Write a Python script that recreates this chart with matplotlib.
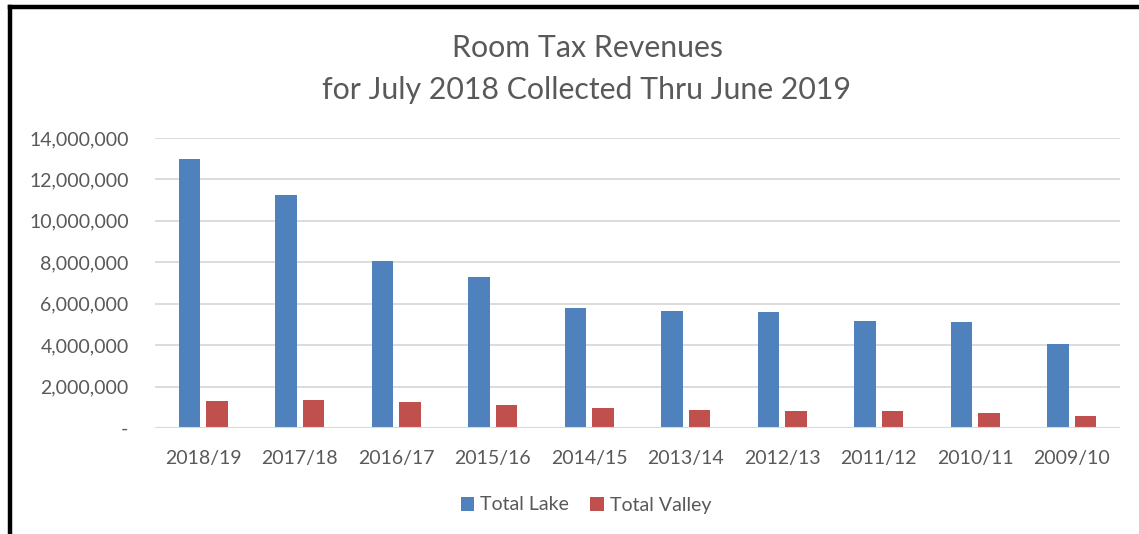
import matplotlib
matplotlib.use("Agg")
import matplotlib.pyplot as plt
from matplotlib.ticker import FuncFormatter
from matplotlib.lines import Line2D
import numpy as np

categories = ["2018/19", "2017/18", "2016/17", "2015/16", "2014/15",
              "2013/14", "2012/13", "2011/12", "2010/11", "2009/10"]
total_lake = [12990000, 11250000, 8060000, 7290000, 5790000,
              5650000, 5600000, 5170000, 5120000, 4060000]
total_valley = [1300000, 1370000, 1260000, 1130000, 980000,
                850000, 820000, 800000, 710000, 560000]
yticks = [0, 2000000, 4000000, 6000000, 8000000, 10000000, 12000000, 14000000]

plt.rcParams['font.family'] = ['Lato', 'DejaVu Sans']
text_color = "#595959"

fig = plt.figure(figsize=(11.39, 5.34), dpi=100)
ax = fig.add_axes([155/1139, 1 - 428/534, (1120-155)/1139, (428-138)/534])

x = np.arange(len(categories))
w = 0.225
off = 0.143
ax.bar(x - off, total_lake, width=w, color="#4F81BD", label="Total Lake", zorder=3)
ax.bar(x + off, total_valley, width=w, color="#C0504D", label="Total Valley", zorder=3)

ax.set_xlim(-0.5, len(categories) - 0.5)
ax.set_ylim(0, 14000000)
ax.set_yticks(yticks)
ax.yaxis.set_major_formatter(FuncFormatter(lambda v, p: "-" if v == 0 else f"{int(v):,}"))
ax.set_xticks(x)
ax.set_xticklabels(categories)
ax.tick_params(axis='both', length=0, labelsize=14, colors=text_color)
ax.tick_params(axis='x', pad=16)
ax.tick_params(axis='y', pad=19)
ax.grid(axis='y', color="#d9d9d9", linewidth=1.3, zorder=0)
for s in ax.spines.values():
    s.set_visible(False)
ax.axhline(0, color="#d9d9d9", linewidth=1.5, zorder=4)

fig.text(587/1139, 1 - 48/534, "Room Tax Revenues", ha='center', va='center',
         fontsize=21.8, color=text_color)
fig.text(587/1139, 1 - 90/534, "for July 2018 Collected Thru June 2019", ha='center',
         va='center', fontsize=21.8, color=text_color)

leg = fig.legend(loc='center', bbox_to_anchor=(586/1139, 1 - 505/534), ncol=2,
                 frameon=False, fontsize=14, labelcolor=text_color,
                 handlelength=0.7, handleheight=0.7, handletextpad=0.3,
                 columnspacing=1.1)

# black frame (left and top)
fig.add_artist(Line2D([10/1139, 10/1139], [0, 1 - 7/534], color='black',
                      linewidth=3.2, transform=fig.transFigure, solid_capstyle='projecting'))
fig.add_artist(Line2D([10/1139, 1], [1 - 7/534, 1 - 7/534], color='black',
                      linewidth=3.2, transform=fig.transFigure, solid_capstyle='projecting'))

fig.savefig("out.png", dpi=100)
